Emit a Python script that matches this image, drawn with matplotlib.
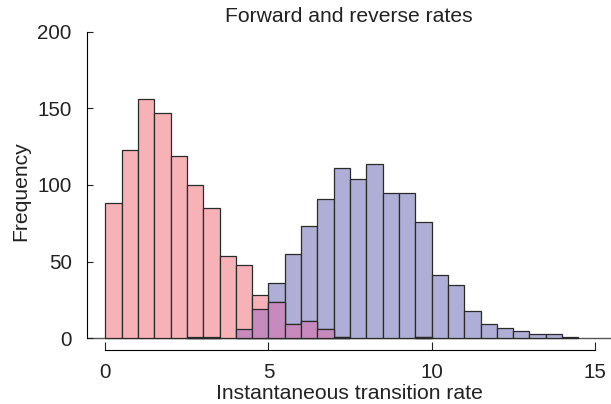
import numpy as np
import matplotlib
matplotlib.use("Agg")
import matplotlib.pyplot as plt

plt.rcParams['font.family'] = ['Liberation Sans', 'DejaVu Sans']

# histogram counts, bins of width 0.5 from 0 to 15
bin_edges = np.arange(0, 15.5, 0.5)
red_counts = [88, 123, 156, 147, 119, 100, 85, 54, 48, 28,
              24, 9, 11, 6, 1, 0, 0, 0, 0, 1,
              0, 0, 0, 0, 0, 0, 0, 0, 0, 0]
blue_counts = [0, 0, 0, 0, 0, 1, 1, 0, 6, 19,
               36, 55, 73, 91, 111, 104, 114, 95, 95, 76,
               41, 35, 18, 9, 7, 5, 3, 3, 1, 0]
x_ticks = [0, 5, 10, 15]
y_ticks = [0, 50, 100, 150, 200]

red = np.array(red_counts)
blue = np.array(blue_counts)
overlap = np.minimum(red, blue)
left = bin_edges[:-1]

fig = plt.figure(figsize=(6.11, 4.04), dpi=100)
ax = fig.add_axes([87 / 611, 1 - 350 / 404, 1 - 87 / 611, (350 - 31.7) / 404])

edge = '#2a2a2a'
lw = 0.9
ax.axhline(0, color='#555555', lw=1.0, zorder=0)
m = blue > 0
ax.bar(left[m], blue[m], width=0.5, align='edge', color='#aeaed6', edgecolor=edge, linewidth=lw)
m = red > 0
ax.bar(left[m], red[m], width=0.5, align='edge', color='#f7b2b7', edgecolor=edge, linewidth=lw)
m = overlap > 0
ax.bar(left[m], overlap[m], width=0.5, align='edge', color='#c78abe', edgecolor=edge, linewidth=lw)

ax.set_xlim(-18.3 / 32.6, 15.5)
ax.set_ylim(-11.7 / 1.532, 200)
ax.spines['top'].set_visible(False)
ax.spines['right'].set_visible(False)
ax.spines['left'].set_bounds(0, 200)
ax.spines['bottom'].set_bounds(0, 15)
ax.set_xticks(x_ticks)
ax.set_yticks(y_ticks)
ax.tick_params(axis='x', direction='in', length=6, pad=9, labelsize=14.8, colors='#222222')
ax.tick_params(axis='y', direction='in', length=4, pad=11, labelsize=14.8, colors='#222222')

ax.set_title("Forward and reverse rates", fontsize=15.2, pad=7, color='#222222')
ax.set_xlabel("Instantaneous transition rate", fontsize=15.2, labelpad=2, color='#222222')
ax.set_ylabel("Frequency", fontsize=15.2, labelpad=5, color='#222222')

fig.savefig("out.png", dpi=100)
